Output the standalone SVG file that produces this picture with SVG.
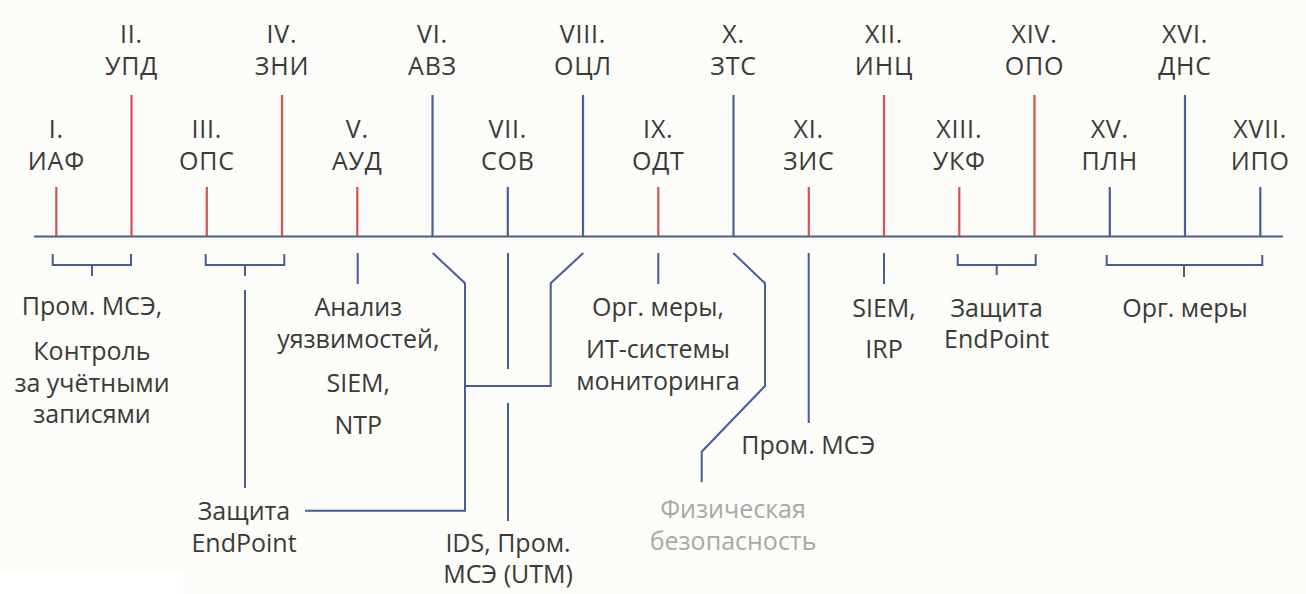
<svg xmlns="http://www.w3.org/2000/svg" width="1306" height="594" viewBox="0 0 1306 594">
<style>
text{font-family:"Open Sans","Noto Sans","Liberation Sans",sans-serif;font-size:25px;fill:#3a3a3a;text-anchor:middle}
.l text{letter-spacing:0.8px}
.g{fill:#a8a8a8}
.r{stroke:#d3534c;stroke-width:2.2;fill:none}
.b{stroke:#4a5b99;stroke-width:2.2;fill:none}
.c{stroke:#4a5b99;stroke-width:2;fill:none}
</style>
<rect width="1306" height="594" fill="#fcfcf8"/>
<rect x="0" y="572" width="183" height="22" fill="#ffffff"/>
<g id="axis"><line class="b" x1="34" y1="236.5" x2="1283" y2="236.5"/></g>
<g id="n1" class="l"><line class="r" x1="56.3" y1="187" x2="56.3" y2="236"/><text x="56.3" y="138">I.</text><text x="56.3" y="170">ИАФ</text></g>
<g id="n2" class="l"><line class="r" x1="131.5" y1="95" x2="131.5" y2="236"/><text x="131.5" y="43">II.</text><text x="131.5" y="75">УПД</text></g>
<g id="n3" class="l"><line class="r" x1="206.8" y1="187" x2="206.8" y2="236"/><text x="206.8" y="138">III.</text><text x="206.8" y="170">ОПС</text></g>
<g id="n4" class="l"><line class="r" x1="282" y1="95" x2="282" y2="236"/><text x="282" y="43">IV.</text><text x="282" y="75">ЗНИ</text></g>
<g id="n5" class="l"><line class="r" x1="357.3" y1="187" x2="357.3" y2="236"/><text x="357.3" y="138">V.</text><text x="357.3" y="170">АУД</text></g>
<g id="n6" class="l"><line class="b" x1="432.5" y1="95" x2="432.5" y2="236"/><text x="432.5" y="43">VI.</text><text x="432.5" y="75">АВЗ</text></g>
<g id="n7" class="l"><line class="b" x1="507.8" y1="187" x2="507.8" y2="236"/><text x="507.8" y="138">VII.</text><text x="507.8" y="170">СОВ</text></g>
<g id="n8" class="l"><line class="b" x1="583" y1="95" x2="583" y2="236"/><text x="583" y="43">VIII.</text><text x="583" y="75">ОЦЛ</text></g>
<g id="n9" class="l"><line class="r" x1="658.3" y1="187" x2="658.3" y2="236"/><text x="658.3" y="138">IX.</text><text x="658.3" y="170">ОДТ</text></g>
<g id="n10" class="l"><line class="b" x1="733.5" y1="95" x2="733.5" y2="236"/><text x="733.5" y="43">X.</text><text x="733.5" y="75">ЗТС</text></g>
<g id="n11" class="l"><line class="r" x1="808.8" y1="187" x2="808.8" y2="236"/><text x="808.8" y="138">XI.</text><text x="808.8" y="170">ЗИС</text></g>
<g id="n12" class="l"><line class="r" x1="884" y1="95" x2="884" y2="236"/><text x="884" y="43">XII.</text><text x="884" y="75">ИНЦ</text></g>
<g id="n13" class="l"><line class="r" x1="959.3" y1="187" x2="959.3" y2="236"/><text x="959.3" y="138">XIII.</text><text x="959.3" y="170">УКФ</text></g>
<g id="n14" class="l"><line class="r" x1="1034.5" y1="95" x2="1034.5" y2="236"/><text x="1034.5" y="43">XIV.</text><text x="1034.5" y="75">ОПО</text></g>
<g id="n15" class="l"><line class="b" x1="1109.8" y1="187" x2="1109.8" y2="236"/><text x="1109.8" y="138">XV.</text><text x="1109.8" y="170">ПЛН</text></g>
<g id="n16" class="l"><line class="b" x1="1185" y1="95" x2="1185" y2="236"/><text x="1185" y="43">XVI.</text><text x="1185" y="75">ДНС</text></g>
<g id="n17" class="l"><line class="b" x1="1260.3" y1="187" x2="1260.3" y2="236"/><text x="1260.3" y="138">XVII.</text><text x="1260.3" y="170">ИПО</text></g>
<g id="connectors">
<path class="c" d="M52.7 254V265H131V254M92 265V276"/>
<path class="c" d="M205.7 254V265H284.3V254M245 265V276"/>
<path class="c" d="M245 290V488"/>
<path class="c" d="M357.7 253V284"/>
<path class="c" d="M658.3 253V284"/>
<path class="c" d="M884 253V284"/>
<path class="c" d="M808.7 253V423"/>
<path class="c" d="M508 253V369M508 403V521"/>
<path class="c" d="M432.7 253L465 283.3V510.7H305"/>
<path class="c" d="M583.3 253L550.7 283.3V386H465"/>
<path class="c" d="M733.3 253L765 283.3V386L701.7 451.7V482.3"/>
<path class="c" d="M957.7 254V265H1035.7V254M996.7 265V275"/>
<path class="c" d="M1106.7 255V265H1262.3V255M1184 265V277"/>
</g>
<g id="t-iaf"><text x="92" y="315">Пром. МСЭ,</text><text x="92" y="360">Контроль</text><text x="92" y="391.5">за учётными</text><text x="92" y="423">записями</text></g>
<g id="t-aud"><text x="358.3" y="315.5">Анализ</text><text x="358.3" y="347.5">уязвимостей,</text><text x="358.3" y="391.5">SIEM,</text><text x="358.3" y="434">NTP</text></g>
<g id="t-endpoint1"><text x="244" y="520">Защита</text><text x="244" y="551.5">EndPoint</text></g>
<g id="t-ids"><text x="508" y="551.5">IDS, Пром.</text><text x="508" y="583">МСЭ (UTM)</text></g>
<g id="t-org1"><text x="658" y="315.5">Орг. меры,</text><text x="658" y="358">ИТ-системы</text><text x="658" y="390">мониторинга</text></g>
<g id="t-phys"><text class="g" x="733" y="518">Физическая</text><text class="g" x="733" y="550">безопасность</text></g>
<g id="t-mse"><text x="808.3" y="454">Пром. МСЭ</text></g>
<g id="t-siem"><text x="884" y="316.5">SIEM,</text><text x="884" y="358">IRP</text></g>
<g id="t-endpoint2"><text x="996.7" y="316.5">Защита</text><text x="996.7" y="348">EndPoint</text></g>
<g id="t-org2"><text x="1185" y="316.5">Орг. меры</text></g>
</svg>
